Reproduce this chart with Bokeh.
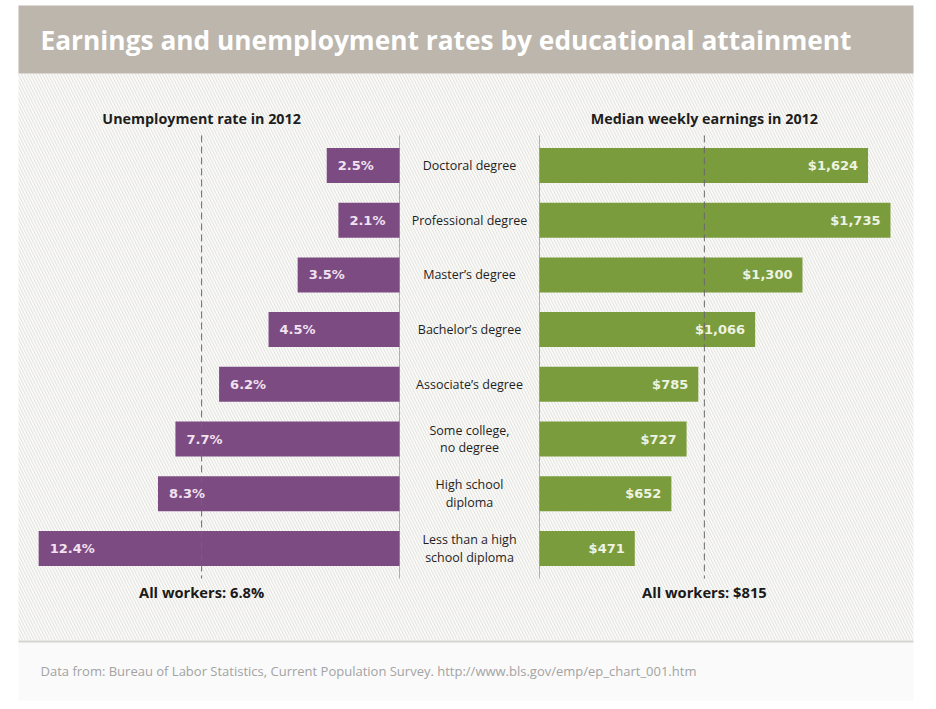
from bokeh.plotting import figure
from bokeh.models import Range1d, ColumnDataSource
from bokeh.embed import file_html
from bokeh.resources import INLINE
from bokeh.core.properties import value

# ---------------- data ----------------
categories = ["Doctoral degree", "Professional degree", "Master\u2019s degree",
              "Bachelor\u2019s degree", "Associate\u2019s degree",
              "Some college,\nno degree", "High school\ndiploma",
              "Less than a high\nschool diploma"]
unemployment = [2.5, 2.1, 3.5, 4.5, 6.2, 7.7, 8.3, 12.4]
earnings = [1624, 1735, 1300, 1066, 785, 727, 652, 471]
unemp_labels = ["2.5%", "2.1%", "3.5%", "4.5%", "6.2%", "7.7%", "8.3%", "12.4%"]
earn_labels = ["$1,624", "$1,735", "$1,300", "$1,066", "$785", "$727", "$652", "$471"]
all_unemp = 6.8
all_earn = 815
all_unemp_label = "All workers: 6.8%"
all_earn_label = "All workers: $815"
left_title = "Unemployment rate in 2012"
right_title = "Median weekly earnings in 2012"
title = "Earnings and unemployment rates by educational attainment"
footer = "Data from: Bureau of Labor Statistics, Current Population Survey. http://www.bls.gov/emp/ep_chart_001.htm"

rows = list(range(len(categories)))

# ---------------- layout constants ----------------
W, H = 936, 709
FONT = value("Open Sans")
LABEL_FONT = value("DejaVu Sans")
PURPLE = "#7c4b82"
GREEN = "#7b9c3d"

left_zero_px = 399.0
px_per_pct = 29.1
right_zero_px = 539.0
px_per_dollar = 0.2023
row0_px = 165.0
row_step_px = 54.7

p = figure(width=W, height=H, x_range=Range1d(0, W), y_range=Range1d(H, 0),
           output_backend="svg", toolbar_location=None, min_border=0)
p.axis.visible = False
p.grid.visible = False
p.outline_line_color = None
p.background_fill_color = "white"
p.border_fill_color = "white"

p.extra_x_ranges = {
    "unemp": Range1d(start=left_zero_px / px_per_pct, end=-(W - left_zero_px) / px_per_pct),
    "earn": Range1d(start=-right_zero_px / px_per_dollar, end=(W - right_zero_px) / px_per_dollar),
}
p.extra_y_ranges = {
    "row": Range1d(start=(H - row0_px) / row_step_px, end=-row0_px / row_step_px),
}

# ---------------- decoration ----------------
# hatched chart background
p.quad(left=[18], right=[913], top=[73], bottom=[640], fill_color="#f9f9f7",
       hatch_pattern="left_diagonal_line", hatch_color="#e4e3df", hatch_scale=6,
       hatch_weight=1, line_color=None)
# title banner
p.quad(left=[18], right=[913], top=[5], bottom=[73], fill_color="#bcb6ad", line_color=None)
p.text(x=[40], y=[39], text=[title], text_font=FONT, text_font_style="bold",
       text_font_size="26.3px", text_color="white", text_baseline="middle")
# footer
p.quad(left=[18], right=[913], top=[641], bottom=[700], fill_color="#fafafa", line_color=None)
p.segment(x0=[18], x1=[913], y0=[641], y1=[641], line_color="#d4d4d0", line_width=2)
p.text(x=[40], y=[670], text=[footer], text_font=FONT, text_font_size="13px",
       text_color="#a3a3a3", text_baseline="middle")

src = ColumnDataSource(dict(row=rows, cat=categories, unemp=unemployment, earn=earnings,
                            ulab=unemp_labels, elab=earn_labels))

span_top, span_bot = -0.55, len(rows) - 0.45

# zero lines
p.segment(x0=[0], x1=[0], y0=[span_top], y1=[span_bot], line_color="#b0b0b0", line_width=1,
          x_range_name="unemp", y_range_name="row")
p.segment(x0=[0], x1=[0], y0=[span_top], y1=[span_bot], line_color="#b0b0b0", line_width=1,
          x_range_name="earn", y_range_name="row")

# bars
p.hbar(y="row", left=0, right="unemp", height=0.64, source=src, fill_color=PURPLE,
       line_color=None, x_range_name="unemp", y_range_name="row")
p.hbar(y="row", left=0, right="earn", height=0.64, source=src, fill_color=GREEN,
       line_color=None, x_range_name="earn", y_range_name="row")

# all-workers dashed lines
p.segment(x0=[all_unemp], x1=[all_unemp], y0=[span_top], y1=[span_bot], line_color="#6a6a6a",
          line_width=1, line_dash="7 4", x_range_name="unemp", y_range_name="row")
p.segment(x0=[all_earn], x1=[all_earn], y0=[span_top], y1=[span_bot], line_color="#6a6a6a",
          line_width=1, line_dash="7 4", x_range_name="earn", y_range_name="row")

# bar labels
p.text(x="unemp", y="row", text="ulab", source=src, text_font=LABEL_FONT, text_font_style="bold",
       text_font_size="13px", text_color="#f1e2f1", text_align="left", text_baseline="middle",
       x_offset=11, x_range_name="unemp", y_range_name="row")
p.text(x="earn", y="row", text="elab", source=src, text_font=LABEL_FONT, text_font_style="bold",
       text_font_size="13px", text_color="#eef3e2", text_align="right", text_baseline="middle",
       x_offset=-10, x_range_name="earn", y_range_name="row")

# category labels
p.text(x=469, y="row", text="cat", source=src, text_font=FONT,
       text_font_size="12.5px", text_color="#1f1f1f", text_align="center",
       text_baseline="middle", text_line_height=1.05, y_range_name="row")

# panel headings
p.text(x=[all_unemp], y=[118], text=[left_title], text_font=FONT, text_font_style="bold",
       text_font_size="14.3px", text_color="#1e1e1e", text_align="center", text_baseline="middle",
       x_range_name="unemp")
p.text(x=[all_earn], y=[118], text=[right_title], text_font=FONT, text_font_style="bold",
       text_font_size="14.3px", text_color="#1e1e1e", text_align="center", text_baseline="middle",
       x_range_name="earn")
p.text(x=[all_unemp], y=[591], text=[all_unemp_label], text_font=FONT, text_font_style="bold",
       text_font_size="14.7px", text_color="#1a1a1a", text_align="center", text_baseline="middle",
       x_range_name="unemp")
p.text(x=[all_earn], y=[591], text=[all_earn_label], text_font=FONT, text_font_style="bold",
       text_font_size="14.7px", text_color="#1a1a1a", text_align="center", text_baseline="middle",
       x_range_name="earn")

open("out.html", "w").write(file_html(p, INLINE))
